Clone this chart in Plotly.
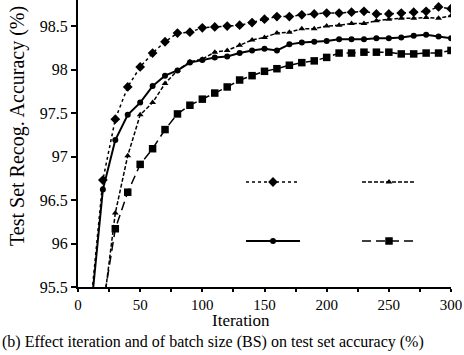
import plotly.graph_objects as go

iterations = list(range(10, 301, 10))

acc_diamond = [95.25, 96.73, 97.43, 97.80, 98.03, 98.19, 98.32, 98.42, 98.43, 98.48,
               98.49, 98.50, 98.51, 98.54, 98.58, 98.61, 98.61, 98.63, 98.64, 98.65,
               98.65, 98.66, 98.67, 98.64, 98.64, 98.65, 98.66, 98.67, 98.72, 98.70]
acc_triangle = [None, 95.21, 96.35, 97.01, 97.48, 97.62, 97.84, 97.99, 98.09, 98.12,
                98.20, 98.22, 98.28, 98.34, 98.37, 98.42, 98.43, 98.47, 98.47, 98.50,
                98.51, 98.53, 98.53, 98.56, 98.58, 98.59, 98.59, 98.60, 98.59, 98.62]
acc_circle = [95.17, 96.62, 97.19, 97.48, 97.62, 97.81, 97.93, 97.99, 98.08, 98.11,
              98.14, 98.15, 98.19, 98.22, 98.24, 98.22, 98.29, 98.31, 98.32, 98.33,
              98.35, 98.35, 98.35, 98.36, 98.36, 98.37, 98.39, 98.40, 98.38, 98.36]
acc_square = [None, 95.28, 96.17, 96.59, 96.91, 97.09, 97.31, 97.49, 97.59, 97.66,
              97.73, 97.80, 97.88, 97.93, 97.98, 98.01, 98.05, 98.08, 98.10, 98.14,
              98.19, 98.19, 98.20, 98.20, 98.20, 98.18, 98.18, 98.19, 98.19, 98.22]

y_ticks = [95.5, 96, 96.5, 97, 97.5, 98, 98.5]
x_ticks = [0, 50, 100, 150, 200, 250, 300]

W, H = 464, 355
ML, MR, MT, MB = 78, 13, 0, 68
PW, PH = W - ML - MR, H - MT - MB
FONT = "Liberation Serif"


def px_x(x):
    return (x - ML) / PW


def px_y(y):
    return (PH + MT - y) / PH


series = [
    (acc_diamond, "diamond", 7.5, "dot", 1.5, "legend"),
    (acc_triangle, "triangle-up", 6, "4px,2px", 1.5, "legend2"),
    (acc_circle, "circle", 6, "solid", 2, "legend3"),
    (acc_square, "square", 7.5, "9px,5px", 1.5, "legend4"),
]

fig = go.Figure()
for vals, sym, size, dash, lw, leg in series:
    fig.add_trace(go.Scatter(
        x=iterations, y=vals, mode="lines+markers", name="",
        line=dict(color="black", width=lw, dash=dash),
        marker=dict(symbol=sym, size=size, color="black"),
        legend=leg, showlegend=True, connectgaps=False, hoverinfo="skip",
    ))

leg_common = dict(bgcolor="rgba(0,0,0,0)", borderwidth=0, itemwidth=54,
                  font=dict(family=FONT, size=10), xref="paper", yref="paper",
                  xanchor="left", yanchor="middle", tracegroupgap=0)


def leg(x, y):
    d = dict(leg_common)
    d.update(x=px_x(x), y=px_y(y))
    return d


fig.update_layout(
    width=W, height=H,
    margin=dict(l=ML, r=MR, t=MT, b=MB, autoexpand=False),
    paper_bgcolor="white", plot_bgcolor="white",
    font=dict(family=FONT, size=16, color="black"),
    xaxis=dict(range=[0, 300], tickvals=x_ticks, ticks="outside", ticklen=3,
               tickwidth=1.5, tickcolor="black", showline=True, linecolor="black",
               linewidth=2, showgrid=False, zeroline=False,
               minor=dict(dtick=25, ticks="outside", ticklen=3, tickwidth=1.5,
                          tickcolor="black", showgrid=False),
               tickfont=dict(family=FONT, size=15)),
    yaxis=dict(range=[95.5, 98.8], tickvals=y_ticks, ticks="outside", ticklen=5,
               tickwidth=1.5, tickcolor="black", showline=True, linecolor="black",
               linewidth=2, showgrid=False, zeroline=False,
               tickfont=dict(family=FONT, size=16)),
    legend=leg(241, 182),
    legend2=leg(357, 182),
    legend3=leg(241, 241),
    legend4=leg(357, 241),
    annotations=[
        dict(text="Test Set Recog. Accuracy (%)", textangle=-90, xref="paper", yref="paper",
             x=px_x(18), y=px_y(126), xanchor="center", yanchor="middle", showarrow=False,
             font=dict(family=FONT, size=20)),
        dict(text="Iteration", xref="paper", yref="paper",
             x=px_x(241), y=px_y(320), xanchor="center", yanchor="middle", showarrow=False,
             font=dict(family=FONT, size=17)),
        dict(text="(b) Effect iteration and of batch size (BS) on test set accuracy (%)",
             xref="paper", yref="paper", x=px_x(0), y=px_y(342),
             xanchor="left", yanchor="middle", showarrow=False,
             font=dict(family=FONT, size=16)),
    ],
)

fig.write_html(
    "out.html",
    config={"displayModeBar": False},
    post_script="document.body.style.margin='0';document.body.style.padding='0';",
)
